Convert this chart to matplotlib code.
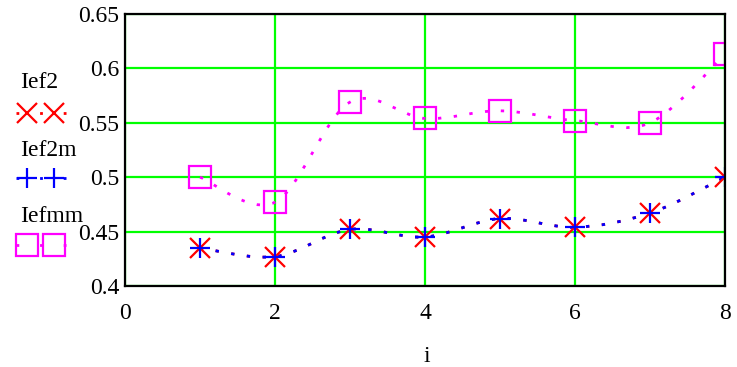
import numpy as np
import matplotlib.pyplot as plt
from matplotlib.path import Path
from matplotlib.patches import PathPatch
from matplotlib.lines import Line2D

plt.rcParams['font.family'] = ['Liberation Serif', 'DejaVu Serif']

# values per index i
i = [1, 2, 3, 4, 5, 6, 7, 8]
Ief2 = [0.435, 0.427, 0.452, 0.445, 0.462, 0.454, 0.467, 0.500]
Ief2m = [0.435, 0.427, 0.452, 0.445, 0.462, 0.454, 0.467, 0.500]
Iefmm = [0.500, 0.477, 0.569, 0.554, 0.561, 0.552, 0.550, 0.613]

x_ticks = [0, 2, 4, 6, 8]
y_ticks = [0.4, 0.45, 0.5, 0.55, 0.6, 0.65]
y_ticklabels = ['0.4', '0.45', '0.5', '0.55', '0.6', '0.65']


def smooth_path(xs, ys):
    # cubic bezier segments through every point (catmull-rom tangents)
    p = np.column_stack([xs, ys]).astype(float)
    ext = np.vstack([p[0], p, p[-1]])
    verts = [p[0]]
    codes = [Path.MOVETO]
    for k in range(len(p) - 1):
        c1 = ext[k + 1] + (ext[k + 2] - ext[k]) / 6
        c2 = ext[k + 2] - (ext[k + 3] - ext[k + 1]) / 6
        verts += [c1, c2, ext[k + 2]]
        codes += [Path.CURVE4] * 3
    return Path(verts, codes)


fig = plt.figure(figsize=(7.37, 3.67), dpi=100)
ax = fig.add_axes([0.1696, 0.2207, 0.8141, 0.7412])

series = [
    (Ief2, 'red', 'x'),
    (Ief2m, 'blue', '+'),
    (Iefmm, 'magenta', 's'),
]
for vals, col, mk in series:
    patch = PathPatch(smooth_path(i, vals), fill=False, edgecolor=col,
                      linewidth=2, linestyle=(0, (1.2, 4.5)), zorder=3)
    ax.add_patch(patch)
    if mk == 's':
        ax.plot(i, vals, linestyle='none', marker='s', markersize=16,
                markerfacecolor='none', markeredgecolor=col,
                markeredgewidth=1.6, zorder=4)
    else:
        ax.plot(i, vals, linestyle='none', marker=mk, markersize=15,
                color=col, markeredgewidth=1.6, zorder=4)

ax.set_xlim(0, 8)
ax.set_ylim(0.4, 0.65)
ax.set_xticks(x_ticks)
ax.set_xticklabels([str(t) for t in x_ticks])
ax.set_yticks(y_ticks)
ax.set_yticklabels(y_ticklabels)
ax.tick_params(axis='y', length=0, labelsize=17, pad=4)
ax.tick_params(axis='x', length=0, labelsize=17, pad=12)
ax.grid(True, color='#00ff00', linewidth=1.6, zorder=1)
ax.set_axisbelow(True)
for s in ax.spines.values():
    s.set_linewidth(1.6)
    s.set_color('black')
    s.set_zorder(5)

W, H = 737, 367
# axis name sits well below the tick labels
fig.text(427 / W, 1 - 356 / H, 'i', fontsize=17, ha='center', va='center')

# legend on the left: name above a sample of two markers
legend_rows = [('Ief2', 'red', 'x', 15, 83, 113),
               ('Ief2m', 'blue', '+', 15, 150, 178),
               ('Iefmm', 'magenta', 's', 16, 217, 245)]
for name, col, mk, ms, ty, my in legend_rows:
    fig.text(20 / W, 1 - ty / H, name, fontsize=17, va='center', ha='left')
    fig.add_artist(Line2D([16 / W, 66 / W], [1 - my / H, 1 - my / H],
                          color=col, linewidth=2, linestyle=(0, (1, 7.5)),
                          transform=fig.transFigure))
    fig.add_artist(Line2D([27 / W, 54 / W], [1 - my / H, 1 - my / H],
                          linestyle='none', marker=mk, markersize=ms,
                          markerfacecolor='none', markeredgecolor=col,
                          markeredgewidth=1.6, transform=fig.transFigure))

fig.savefig('out.png', dpi=100)
